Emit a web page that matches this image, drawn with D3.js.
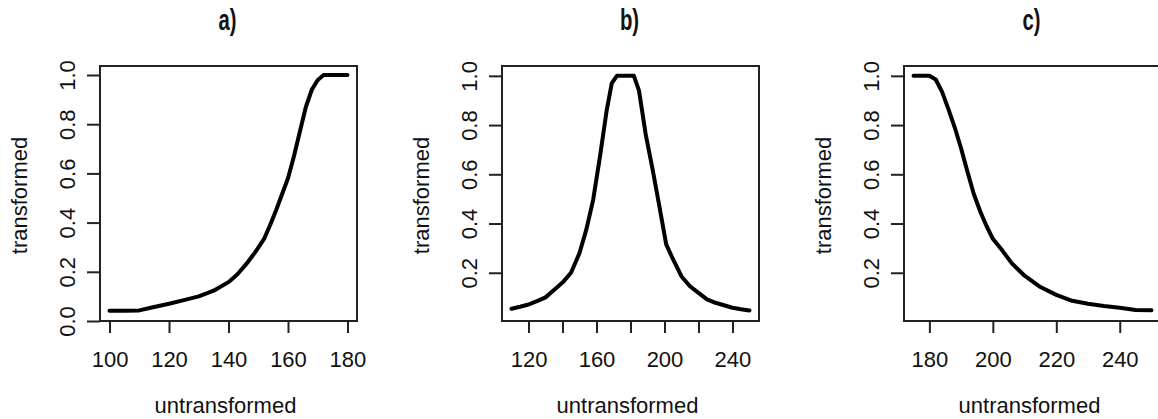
<!DOCTYPE html>
<html><head><meta charset="utf-8">
<script src="https://cdn.jsdelivr.net/npm/d3@7"></script>
<style>
html,body{margin:0;padding:0;background:#fff;}
svg{display:block;}
text{font-family:"Liberation Sans",Arial,sans-serif;fill:#111;}
</style></head>
<body>
<svg id="chart" width="1158" height="419"></svg>
<script>
// ---- data ----
const titles = ["a)", "b)", "c)"];
const xTitle = "untransformed";
const yTitle = "transformed";

const aX = [100,105,110,115,120,125,130,135,140,143,146,149,152,154,156,158,160,162,164,166,168,170,172,176,180];
const aY = [0.042,0.042,0.043,0.057,0.070,0.085,0.100,0.123,0.158,0.19,0.232,0.28,0.335,0.39,0.45,0.515,0.58,0.67,0.77,0.87,0.94,0.98,1.0,1.0,1.0];

const bX = [110,115,120,125,130,135,140,145,150,154,158,162,166,169,172,176,182,185,189,193,197,201,205,210,215,220,225,230,235,240,245,250];
const bY = [0.054,0.062,0.071,0.085,0.10,0.13,0.16,0.20,0.28,0.375,0.495,0.67,0.86,0.97,1.0,1.0,1.0,0.94,0.76,0.62,0.47,0.315,0.255,0.185,0.145,0.118,0.092,0.078,0.068,0.058,0.052,0.047];

const cX = [175,178,180,182,184,186,188,190,192,194,196,198,200,203,206,210,215,220,225,230,235,240,245,250];
const cY = [1.0,1.0,1.0,0.985,0.935,0.865,0.79,0.705,0.61,0.52,0.45,0.39,0.338,0.29,0.238,0.188,0.142,0.11,0.086,0.074,0.065,0.058,0.049,0.048];

const aXTicks = [100,120,140,160,180];
const aXLabels = ["100","120","140","160","180"];
const bXTicks = [120,140,160,180,200,220,240];
const bXLabels = ["120","","160","","200","","240"];
const cXTicks = [180,200,220,240];
const cXLabels = ["180","200","220","240"];
const aYTicks = [0.0,0.2,0.4,0.6,0.8,1.0];
const bYTicks = [0.2,0.4,0.6,0.8,1.0];
const cYTicks = [0.2,0.4,0.6,0.8,1.0];
const yTickLabels = ["0.0","0.2","0.4","0.6","0.8","1.0"];

// ---- layout ----
const svg = d3.select("#chart");
const panels = [
  {title:titles[0], xs:aX, ys:aY, xd:[96.8,183.2], yd:[0,1.0366], xt:aXTicks, xl:aXLabels, yt:aYTicks, left:100},
  {title:titles[1], xs:bX, ys:bY, xd:[104.4,255.6], yd:[0.004,1.04], xt:bXTicks, xl:bXLabels, yt:bYTicks, left:502},
  {title:titles[2], xs:cX, ys:cY, xd:[172,253], yd:[0.004,1.04], xt:cXTicks, xl:cXLabels, yt:cYTicks, left:904}
];
const W = 257, plotTop = 66, plotBottom = 321;
const fontStack = '"Liberation Sans",Arial,sans-serif';

panels.forEach(p => {
  const L = p.left, R = L + W;
  const x = d3.scaleLinear().domain(p.xd).range([L, R]);
  const y = d3.scaleLinear().domain(p.yd).range([plotBottom, plotTop]);
  const g = svg.append("g");

  // curve
  const pts = p.xs.map((v,i)=>[v,p.ys[i]]);
  g.append("path").datum(pts)
    .attr("d", d3.line().x(d=>x(d[0])).y(d=>y(d[1])))
    .attr("fill","none").attr("stroke","#000").attr("stroke-width",4)
    .attr("stroke-linejoin","round").attr("stroke-linecap","round");

  // box
  g.append("rect").attr("x",L).attr("y",plotTop).attr("width",W).attr("height",plotBottom-plotTop)
    .attr("fill","none").attr("stroke","#222").attr("stroke-width",2);

  // x axis
  const xa = g.append("g").attr("transform",`translate(0,${plotBottom})`)
    .call(d3.axisBottom(x).tickValues(p.xt).tickSize(12)
      .tickFormat((d,i)=>p.xl[i]));
  xa.select(".domain").attr("d",`M${x(p.xt[0])},0H${x(p.xt[p.xt.length-1])}`)
    .attr("stroke","#222").attr("stroke-width",2);
  xa.selectAll(".tick line").attr("stroke","#222").attr("stroke-width",2);
  xa.selectAll(".tick text").attr("y",null).attr("dy",null)
    .attr("transform","translate(0,46)")
    .style("font-size","22px").style("font-family",fontStack)
    .attr("fill","#111");

  // y axis
  const ya = g.append("g").attr("transform",`translate(${L},0)`)
    .call(d3.axisLeft(y).tickValues(p.yt).tickSize(13)
      .tickFormat(d=>yTickLabels[Math.round(d*5)]));
  ya.select(".domain").attr("d",`M0,${y(p.yt[0])}V${y(p.yt[p.yt.length-1])}`)
    .attr("stroke","#222").attr("stroke-width",2);
  ya.selectAll(".tick line").attr("stroke","#222").attr("stroke-width",2);
  ya.selectAll(".tick text").attr("x",null).attr("dy",null)
    .attr("text-anchor","middle")
    .attr("transform","translate(-25,0) rotate(-90)")
    .style("font-size","22px").style("font-family",fontStack)
    .attr("fill","#111");

  // axis titles
  g.append("text").attr("x",(L+R)/2-3).attr("y",413).attr("text-anchor","middle")
    .style("font-size","22px").text(xTitle);
  g.append("text").attr("transform",`translate(${L-73},${(plotTop+plotBottom)/2+2}) rotate(-90)`)
    .attr("text-anchor","middle").style("font-size","22px").text(yTitle);

  // panel title
  g.append("text").attr("transform",`translate(${(L+R)/2-1},30) scale(0.7,1)`)
    .attr("text-anchor","middle").style("font-size","29px").style("font-weight","bold")
    .text(p.title);
});
</script>
</body></html>
